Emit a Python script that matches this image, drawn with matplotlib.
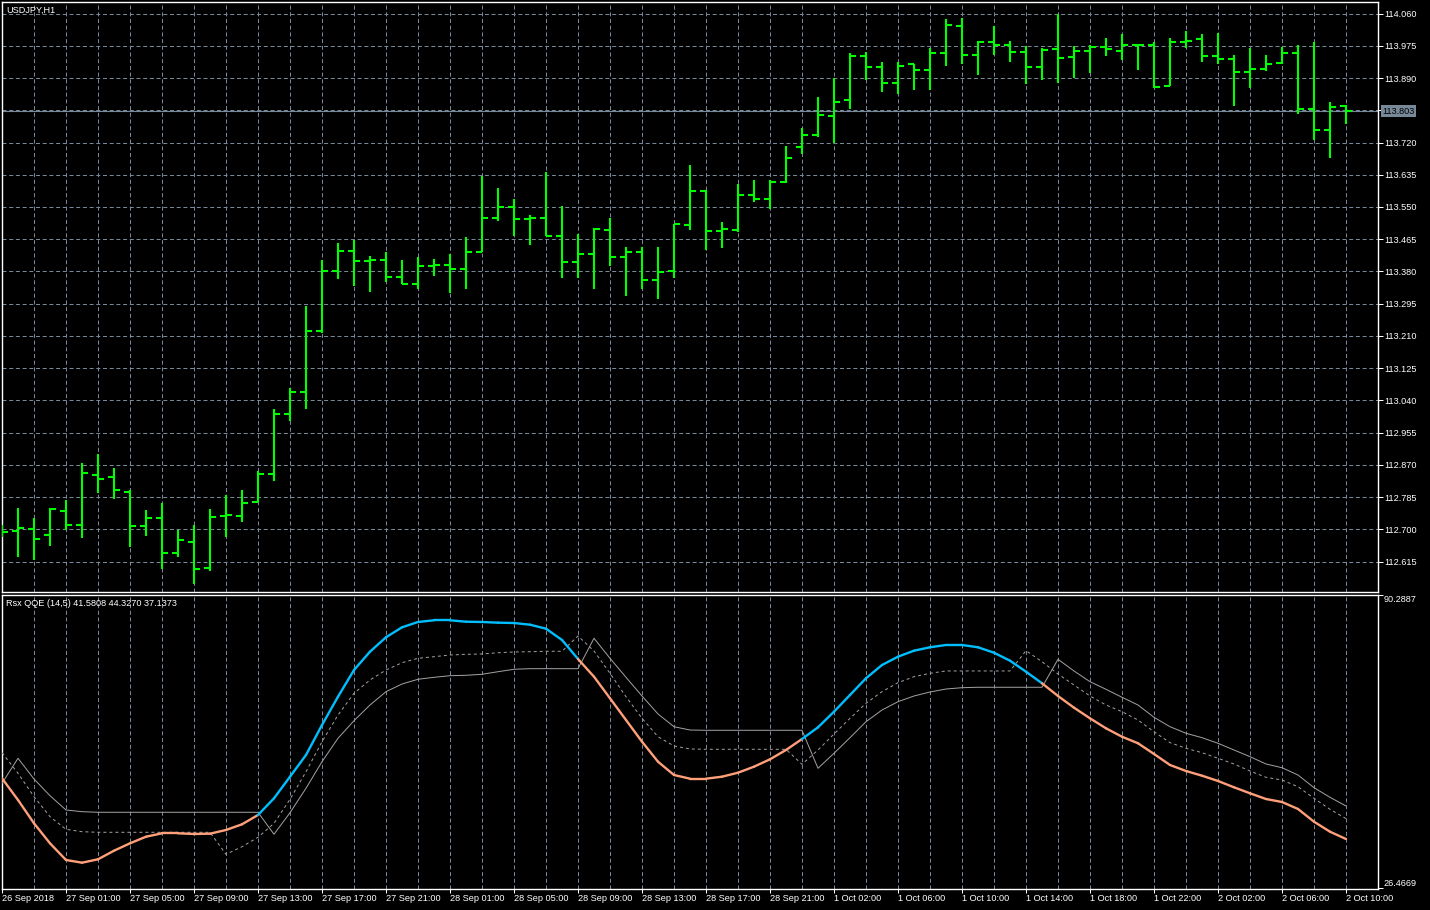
import matplotlib
matplotlib.use("Agg")
import matplotlib.pyplot as plt
from matplotlib.collections import LineCollection
import numpy as np

plt.rcParams['font.family'] = ['Liberation Sans', 'DejaVu Sans']

symbol_title = "USDJPY,H1"
ind_title = "Rsx QQE (14,5) 41.5808 44.3270 37.1373"

open_ = [112.694, 112.696, 112.700, 112.686, 112.749, 112.711, 112.844, 112.838, 112.799, 112.709,
         112.730, 112.638, 112.667, 112.599, 112.736, 112.735, 112.772, 112.847, 113.004, 113.062,
         113.223, 113.382, 113.434, 113.408, 113.411, 113.366, 113.347, 113.395, 113.397, 113.387,
         113.431, 113.521, 113.549, 113.519, 113.521, 113.474, 113.405, 113.426, 113.489, 113.418,
         113.432, 113.357, 113.382, 113.502, 113.592, 113.487, 113.489, 113.582, 113.571, 113.616,
         113.708, 113.740, 113.790, 113.832, 113.947, 113.919, 113.878, 113.926, 113.911, 113.955,
         114.028, 113.952, 113.985, 113.978, 113.959, 113.919, 113.966, 113.945, 113.961, 113.972,
         113.961, 113.976, 113.976, 113.868, 113.986, 113.993, 113.948, 113.940, 113.905, 113.914,
         113.929, 113.956, 113.809, 113.753, 113.816]
high = [112.712, 112.755, 112.729, 112.757, 112.777, 112.874, 112.898, 112.861, 112.805, 112.751,
        112.769, 112.698, 112.711, 112.753, 112.790, 112.804, 112.854, 113.016, 113.072, 113.289,
        113.410, 113.454, 113.462, 113.420, 113.430, 113.410, 113.417, 113.412, 113.426, 113.470,
        113.631, 113.601, 113.572, 113.530, 113.641, 113.553, 113.478, 113.495, 113.520, 113.445,
        113.445, 113.445, 113.505, 113.662, 113.594, 113.511, 113.610, 113.620, 113.620, 113.712,
        113.757, 113.841, 113.891, 113.957, 113.959, 113.932, 113.932, 113.926, 113.968, 114.045,
        114.048, 113.988, 114.027, 113.987, 113.974, 113.968, 114.058, 113.974, 113.978, 113.996,
        114.006, 113.979, 113.984, 113.995, 114.013, 114.006, 114.009, 113.950, 113.969, 113.951,
        113.972, 113.976, 113.985, 113.826, 113.818]
low = [112.680, 112.628, 112.619, 112.657, 112.698, 112.676, 112.795, 112.781, 112.653, 112.683,
       112.596, 112.628, 112.556, 112.591, 112.679, 112.720, 112.771, 112.828, 112.986, 113.018,
       113.217, 113.359, 113.341, 113.326, 113.353, 113.347, 113.334, 113.368, 113.324, 113.334,
       113.430, 113.513, 113.473, 113.451, 113.473, 113.362, 113.364, 113.333, 113.395, 113.315,
       113.335, 113.307, 113.362, 113.489, 113.436, 113.443, 113.484, 113.562, 113.546, 113.614,
       113.689, 113.735, 113.719, 113.808, 113.884, 113.853, 113.847, 113.858, 113.858, 113.922,
       113.926, 113.897, 113.950, 113.932, 113.874, 113.884, 113.877, 113.891, 113.903, 113.948,
       113.937, 113.911, 113.865, 113.868, 113.969, 113.932, 113.926, 113.816, 113.865, 113.908,
       113.926, 113.795, 113.726, 113.679, 113.770]
close = [112.694, 112.704, 112.675, 112.753, 112.711, 112.849, 112.833, 112.804, 112.709, 112.730,
         112.638, 112.673, 112.596, 112.732, 112.738, 112.770, 112.847, 113.004, 113.062, 113.223,
         113.382, 113.434, 113.408, 113.411, 113.366, 113.347, 113.395, 113.397, 113.387, 113.431,
         113.521, 113.549, 113.519, 113.521, 113.474, 113.405, 113.426, 113.492, 113.418, 113.432,
         113.357, 113.379, 113.505, 113.592, 113.487, 113.491, 113.582, 113.571, 113.616, 113.679,
         113.740, 113.793, 113.827, 113.947, 113.919, 113.878, 113.922, 113.911, 113.955, 114.031,
         113.952, 113.984, 113.977, 113.958, 113.919, 113.965, 113.943, 113.962, 113.973, 113.966,
         113.978, 113.977, 113.867, 113.985, 113.988, 113.948, 113.940, 113.905, 113.914, 113.927,
         113.956, 113.809, 113.753, 113.814, 113.803]

rsx = [50.36, 45.64, 40.56, 36.20, 32.57, 31.98, 32.72, 34.59, 36.20, 37.64,
       38.38, 38.38, 38.23, 38.30, 39.10, 40.34, 42.37, 46.01, 50.71, 55.44,
       61.97, 68.14, 73.95, 77.94, 81.08, 83.25, 84.41, 84.78, 84.78, 84.47,
       84.41, 84.26, 84.19, 83.82, 82.95, 80.49, 76.35, 72.49, 67.79, 63.06,
       58.34, 53.98, 51.08, 50.28, 50.28, 50.71, 51.58, 52.89, 54.50, 56.53,
       58.92, 61.47, 64.87, 68.51, 72.15, 75.04, 76.85, 78.16, 78.90, 79.40,
       79.40, 78.90, 77.72, 75.98, 73.58, 71.06, 68.29, 65.74, 63.43, 61.25,
       59.42, 57.99, 55.66, 53.26, 51.95, 50.93, 49.78, 48.40, 47.10, 45.85,
       45.20, 43.68, 40.91, 38.73, 37.14]
trail_slow = [49.27, 54.72, 50.21, 46.57, 43.46, 43.09, 42.96, 42.96, 42.96, 42.96,
              42.96, 42.96, 42.96, 42.96, 42.96, 42.96, 42.96, 38.17, 42.87, 48.19,
              53.98, 59.08, 62.91, 66.33, 69.23, 70.90, 71.93, 72.36, 72.71, 72.80,
              73.02, 73.58, 74.11, 74.24, 74.24, 74.24, 74.24, 80.86, 76.50, 72.36,
              68.29, 64.37, 61.60, 60.88, 60.82, 60.82, 60.82, 60.82, 60.82, 60.82,
              60.82, 52.54, 55.81, 59.21, 62.69, 65.24, 67.05, 68.29, 69.16, 69.81,
              70.10, 70.19, 70.19, 70.19, 70.19, 70.19, 76.28, 73.74, 71.41, 69.75,
              68.01, 66.33, 63.65, 61.60, 60.17, 59.21, 57.99, 56.53, 55.07, 53.48,
              52.67, 51.08, 48.32, 46.22, 44.33]
trail_fast = [55.94, 51.45, 46.36, 42.00, 39.25, 38.73, 38.60, 38.60, 38.60, 38.60,
              38.60, 38.60, 38.60, 38.60, 33.81, 35.46, 37.51, 40.56, 45.79, 51.80,
              58.34, 64.15, 68.88, 71.78, 73.95, 75.54, 76.50, 76.85, 77.22, 77.37,
              77.44, 77.72, 77.87, 77.94, 78.03, 78.03, 81.36, 78.09, 73.23, 68.14,
              63.43, 59.42, 57.40, 56.75, 56.68, 56.68, 56.68, 56.68, 56.68, 56.68,
              53.41, 56.53, 60.01, 63.43, 66.70, 69.23, 71.19, 72.49, 73.23, 73.74,
              73.74, 73.74, 73.74, 73.74, 78.16, 75.76, 73.08, 70.69, 68.29, 66.33,
              64.87, 63.06, 60.51, 58.12, 56.90, 55.94, 54.72, 53.48, 51.95, 50.58,
              49.99, 48.53, 46.01, 43.61, 41.58]

time_labels = ["26 Sep 2018", "27 Sep 01:00", "27 Sep 05:00", "27 Sep 09:00", "27 Sep 13:00",
               "27 Sep 17:00", "27 Sep 21:00", "28 Sep 01:00", "28 Sep 05:00", "28 Sep 09:00",
               "28 Sep 13:00", "28 Sep 17:00", "28 Sep 21:00", "1 Oct 02:00", "1 Oct 06:00",
               "1 Oct 10:00", "1 Oct 14:00", "1 Oct 18:00", "1 Oct 22:00", "2 Oct 02:00",
               "2 Oct 06:00", "2 Oct 10:00"]
price_ticks = [114.060, 113.975, 113.890, 113.805, 113.720, 113.635, 113.550, 113.465, 113.380,
               113.295, 113.210, 113.125, 113.040, 112.955, 112.870, 112.785, 112.700, 112.615]
current_price = 113.803
ind_max = 90.2887
ind_min = 26.4669

# ---- styling ----
BG = "black"
FG = "white"
GRID = "#778899"
BAR = "#00ff00"
UP = "#00bfff"
DN = "#ffa07a"
TRAIL = "#a0a0a0"
FS = 6.6
W, H = 1430, 910

fig = plt.figure(figsize=(W / 100, H / 100), dpi=100, facecolor=BG)

def fax(x0, y0, x1, y1):
    return fig.add_axes([x0 / W, 1 - y1 / H, (x1 - x0) / W, (y1 - y0) / H], facecolor=BG)

ax1 = fax(2, 2.3, 1377.5, 592)
ax2 = fax(2, 594.5, 1377.5, 889.3)

n = len(close)
x = np.arange(n)
xmax = 1375.5 / 16.0
for ax in (ax1, ax2):
    ax.set_xlim(0, xmax)
    for s in ax.spines.values():
        s.set_color(FG)
        s.set_linewidth(1.0)
    # vertical dashed grid every 2 bars
    for gx in range(2, n, 2):
        ax.axvline(gx, color=GRID, lw=0.72, ls=(0, (4, 2.7)), zorder=1)

# ---- price panel ----
top_lim = (112.5347, 114.0898)
ax1.set_ylim(*top_lim)
for py in price_ticks:
    ax1.axhline(py, color=GRID, lw=0.72, ls=(0, (4, 2.7)), zorder=1)
ax1.axhline(current_price, color=GRID, lw=0.8, zorder=2)

ax1.vlines(x, low, high, colors=BAR, linewidth=1.5, zorder=3)
ax1.hlines(open_, x - 0.375, x, colors=BAR, linewidth=1.5, zorder=3)
ax1.hlines(close, x, x + 0.375, colors=BAR, linewidth=1.5, zorder=3)

ax1.set_xticks([])
ax1.yaxis.tick_right()
ax1.set_yticks(price_ticks)
ax1.set_yticklabels(["" if abs(p - current_price) < 0.01 else f"{p:.3f}" for p in price_ticks])
ax1.tick_params(axis="y", colors=FG, labelcolor=FG, length=3.6, width=0.72,
                labelsize=FS, pad=1)
ax1.annotate(f"{current_price:.3f}", xy=(1.0, current_price), xycoords=("axes fraction", "data"),
             xytext=(3.6, 0), textcoords="offset points", va="center", ha="left",
             fontsize=FS, color="black", annotation_clip=False,
             bbox=dict(boxstyle="square,pad=0.12", fc=GRID, ec="none"))
ax1.text(4 / 1375.5, 1 - 8 / 590, symbol_title, transform=ax1.transAxes, color=FG,
         fontsize=FS, va="center", ha="left")

# ---- indicator panel ----
ax2.set_ylim(ind_min - 1.3 / 4.591, ind_max + 0.5 / 4.591)
ax2.plot(x, trail_slow, color=TRAIL, lw=0.72, zorder=3)
ax2.plot(x, trail_fast, color=TRAIL, lw=0.72, ls=(0, (3, 3)), zorder=3)

rsx_a = np.array(rsx)
slow_a = np.array(trail_slow)
pts = np.column_stack([x, rsx_a])
segs = np.stack([pts[:-1], pts[1:]], axis=1)
cols = [UP if rsx_a[i + 1] > slow_a[i + 1] else DN for i in range(n - 1)]
lc = LineCollection(segs, colors=cols, linewidths=1.7, capstyle="round", joinstyle="round", zorder=4)
ax2.add_collection(lc)

ax2.yaxis.tick_right()
ax2.set_yticks([ind_max, ind_min])
ax2.set_yticklabels([f"{ind_max:.4f}", f"{ind_min:.4f}"])
ax2.tick_params(axis="y", colors=FG, labelcolor=FG, length=3.6, width=0.72, labelsize=FS, pad=1)
tl = ax2.get_yticklabels()
tl[0].set_verticalalignment("top")
tl[1].set_verticalalignment("bottom")

ax2.set_xticks(np.arange(0, n, 4))
ax2.set_xticklabels(time_labels, ha="left")
ax2.tick_params(axis="x", colors=FG, labelcolor=FG, length=3, width=0.72, labelsize=FS, pad=0.5)
ax2.text(4 / 1375.5, 1 - 9 / 294.8, ind_title, transform=ax2.transAxes, color=FG,
         fontsize=FS, va="center", ha="left")

fig.savefig("out.png", dpi=100, facecolor=BG)
